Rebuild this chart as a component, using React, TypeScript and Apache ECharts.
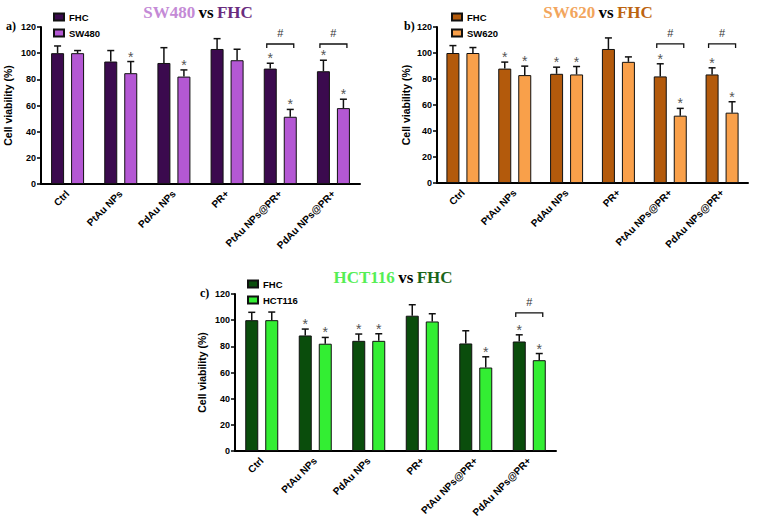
import React, { useEffect, useRef } from "react";
import * as echarts from "echarts";

const categories = ["Ctrl", "PtAu NPs", "PdAu NPs", "PR+", "PtAu NPs@PR+", "PdAu NPs@PR+"];
const yTicks = { min: 0, max: 120, interval: 20 };

// Panel a: SW480 vs FHC
const fhcA = [100, 93.6, 92.5, 103.2, 88.2, 86.2];
const fhcAErr = [5.5, 8.4, 11.7, 7.9, 4.1, 8.4];
const sw480 = [100, 84.7, 82.1, 94.6, 51.4, 58];
const sw480Err = [2, 8.9, 5.1, 8.4, 5.6, 6.8];
const starsFhcA = [0, 0, 0, 0, 1, 1];
const starsSw480 = [0, 1, 1, 0, 1, 1];
const bracketsA = [[4, 107], [5, 107]];

// Panel b: SW620 vs FHC
const fhcB = [100, 88, 84, 103.1, 82, 83.5];
const fhcBErr = [5.7, 5, 5.1, 8.5, 9.7, 5.1];
const sw620 = [100, 83, 83.5, 93.2, 51.8, 54.1];
const sw620Err = [4.2, 6.9, 6.1, 3.8, 5.6, 8.4];
const starsFhcB = [0, 1, 1, 0, 1, 1];
const starsSw620 = [0, 1, 1, 0, 1, 1];
const bracketsB = [[4, 107], [5, 107]];

// Panel c: HCT116 vs FHC
const fhcC = [100, 88.3, 84.2, 103.4, 82.2, 83.7];
const fhcCErr = [6, 4.9, 5.2, 8.4, 9.7, 5.1];
const hct116 = [100, 82, 84.2, 99, 63.8, 69.4];
const hct116Err = [6.2, 4.8, 5.4, 5.9, 8.2, 5.1];
const starsFhcC = [0, 1, 1, 0, 0, 1];
const starsHct116 = [0, 1, 1, 0, 1, 1];
const bracketsC = [[5, 105.5]];

const SANS = "Liberation Sans, Arial, sans-serif";
const SERIF = "Liberation Serif, Times New Roman, serif";
const BAR_W = 13;
const BAR_GAP_PX = 7;

const panels = [
  {
    key: "a", fhc: fhcA, fhcErr: fhcAErr, cell: sw480, cellErr: sw480Err, starsF: starsFhcA, starsC: starsSw480,
    brackets: bracketsA, cellName: "SW480", dark: "#3b0a4e", light: "#b458d4",
    titleLight: "#c48ad6", titleDark: "#6a2c7e",
    grid: { left: 41, right: 397, top: 27, bottom: 337 },
    titleX: 198, titleY: 12, labelX: 6, labelY: 26, legendLeft: 53, legendTop: 11, nameGap: 28,
  },
  {
    key: "b", fhc: fhcB, fhcErr: fhcBErr, cell: sw620, cellErr: sw620Err, starsF: starsFhcB, starsC: starsSw620,
    brackets: bracketsB, cellName: "SW620", dark: "#b35a0c", light: "#f9a04a",
    titleLight: "#f2a55c", titleDark: "#bd6410",
    grid: { left: 437, right: 9, top: 27, bottom: 338 },
    titleX: 598, titleY: 12, labelX: 404, labelY: 26, legendLeft: 451, legendTop: 11, nameGap: 26,
  },
  {
    key: "c", fhc: fhcC, fhcErr: fhcCErr, cell: hct116, cellErr: hct116Err, starsF: starsFhcC, starsC: starsHct116,
    brackets: bracketsC, cellName: "HCT116", dark: "#0a4d0c", light: "#33ee33",
    titleLight: "#55ee55", titleDark: "#1a661a",
    grid: { left: 235, right: 201, top: 294, bottom: 70 },
    titleX: 393, titleY: 277, labelX: 200, labelY: 293, legendLeft: 247, legendTop: 278, nameGap: 28,
  },
];

function buildOption() {
  const grid: any[] = [];
  const xAxis: any[] = [];
  const yAxis: any[] = [];
  const series: any[] = [];
  const legend: any[] = [];
  const graphic: any[] = [];

  panels.forEach((p, i) => {
    grid.push({ ...p.grid, containLabel: false });
    xAxis.push({
      type: "category",
      gridIndex: i,
      data: categories,
      axisLine: { lineStyle: { color: "#000", width: 2 } },
      axisTick: { alignWithLabel: true, length: 4, lineStyle: { color: "#000", width: 1.5 } },
      axisLabel: { rotate: 45, margin: 8, color: "#000", fontFamily: SANS, fontWeight: "bold", fontSize: 10, interval: 0 },
      splitLine: { show: false },
    });
    yAxis.push({
      type: "value",
      gridIndex: i,
      min: yTicks.min,
      max: yTicks.max,
      interval: yTicks.interval,
      name: "Cell viability (%)",
      nameLocation: "middle",
      nameGap: p.nameGap,
      nameTextStyle: { color: "#000", fontFamily: SANS, fontWeight: "bold", fontSize: 10.5 },
      axisLine: { show: true, lineStyle: { color: "#000", width: 2 } },
      axisTick: { show: true, length: 4, lineStyle: { color: "#000", width: 1.5 } },
      axisLabel: { color: "#000", fontFamily: SANS, fontWeight: "bold", fontSize: 9, margin: 5 },
      splitLine: { show: false },
    });

    const fName = "FHC_" + p.key;
    const cName = p.cellName + "_" + p.key;
    series.push({
      type: "bar", name: fName, xAxisIndex: i, yAxisIndex: i, data: p.fhc,
      barWidth: BAR_W, barGap: (BAR_GAP_PX / BAR_W) * 100 + "%",
      itemStyle: { color: p.dark, borderColor: "#111", borderWidth: 1 },
    });
    series.push({
      type: "bar", name: cName, xAxisIndex: i, yAxisIndex: i, data: p.cell,
      barWidth: BAR_W, barGap: (BAR_GAP_PX / BAR_W) * 100 + "%",
      itemStyle: { color: p.light, borderColor: "#111", borderWidth: 1 },
    });

    const errRows: any[] = [];
    p.fhc.forEach((v, k) => errRows.push([k, v, p.fhcErr[k], 0, p.starsF[k]]));
    p.cell.forEach((v, k) => errRows.push([k, v, p.cellErr[k], 1, p.starsC[k]]));
    series.push({
      type: "custom",
      xAxisIndex: i,
      yAxisIndex: i,
      data: errRows,
      encode: { x: 0, y: 1 },
      z: 5,
      clip: false,
      renderItem: (params: any, api: any) => {
        const cat = api.value(0);
        const mean = api.value(1);
        const err = api.value(2);
        const which = api.value(3);
        const star = api.value(4);
        const off = (which === 0 ? -1 : 1) * (BAR_W + BAR_GAP_PX) / 2;
        const base = api.coord([cat, mean]);
        const top = api.coord([cat, mean + err]);
        const x = base[0] + off;
        const children: any[] = [
          { type: "line", shape: { x1: x, y1: base[1], x2: x, y2: top[1] }, style: { stroke: "#111", lineWidth: 1.5 } },
          { type: "line", shape: { x1: x - 3.5, y1: top[1], x2: x + 3.5, y2: top[1] }, style: { stroke: "#111", lineWidth: 1.5 } },
        ];
        if (star) {
          children.push({
            type: "text",
            style: { text: "*", x: x, y: top[1] - 5, align: "center", verticalAlign: "middle", fill: "#555", fontSize: 14, fontFamily: SANS },
          });
        }
        return { type: "group", children };
      },
    });

    series.push({
      type: "custom",
      xAxisIndex: i,
      yAxisIndex: i,
      data: p.brackets,
      encode: { x: 0, y: 1 },
      z: 5,
      clip: false,
      renderItem: (params: any, api: any) => {
        const cat = api.value(0);
        const yv = api.value(1);
        const pt = api.coord([cat, yv]);
        const half = 13.5;
        return {
          type: "group",
          children: [
            {
              type: "polyline",
              shape: { points: [[pt[0] - half, pt[1] + 4], [pt[0] - half, pt[1]], [pt[0] + half, pt[1]], [pt[0] + half, pt[1] + 4]] },
              style: { stroke: "#111", lineWidth: 1.3, fill: "none" },
            },
            {
              type: "text",
              style: { text: "#", x: pt[0], y: pt[1] - 11, align: "center", verticalAlign: "middle", fill: "#333", fontSize: 11, fontFamily: SANS },
            },
          ],
        };
      },
    });

    legend.push({
      data: [fName, cName],
      orient: "vertical",
      left: p.legendLeft,
      top: p.legendTop,
      icon: "rect",
      itemWidth: 10,
      itemHeight: 7,
      itemGap: 4,
      padding: 0,
      selectedMode: false,
      formatter: (n: string) => n.split("_")[0],
      textStyle: { color: "#000", fontFamily: SANS, fontWeight: "bold", fontSize: 9.5, lineHeight: 12 },
    });

    graphic.push({
      type: "text",
      x: p.titleX,
      y: p.titleY,
      style: {
        text: "{l|" + p.cellName + "} {v|vs} {d|FHC}",
        align: "center",
        verticalAlign: "middle",
        rich: {
          l: { fill: p.titleLight, fontFamily: SERIF, fontWeight: "bold", fontSize: 17 },
          v: { fill: "#000", fontFamily: SERIF, fontWeight: "bold", fontSize: 17 },
          d: { fill: p.titleDark, fontFamily: SERIF, fontWeight: "bold", fontSize: 17 },
        },
      },
    });
    graphic.push({
      type: "text",
      x: p.labelX,
      y: p.labelY,
      style: {
        text: p.key + ")",
        verticalAlign: "middle",
        fill: "#000",
        fontFamily: SERIF,
        fontWeight: "bold",
        fontSize: 12,
      },
    });
  });

  return {
    animation: false,
    backgroundColor: "#fff",
    grid,
    xAxis,
    yAxis,
    series,
    legend,
    graphic,
  };
}

export default function App() {
  const ref = useRef<HTMLDivElement>(null);
  useEffect(() => {
    if (!ref.current) return;
    const chart = echarts.init(ref.current, null, { renderer: "svg" });
    chart.setOption(buildOption() as any);
    return () => chart.dispose();
  }, []);
  return <div ref={ref} style={{ width: 757, height: 521, position: "absolute", left: 0, top: 0 }} />;
}
